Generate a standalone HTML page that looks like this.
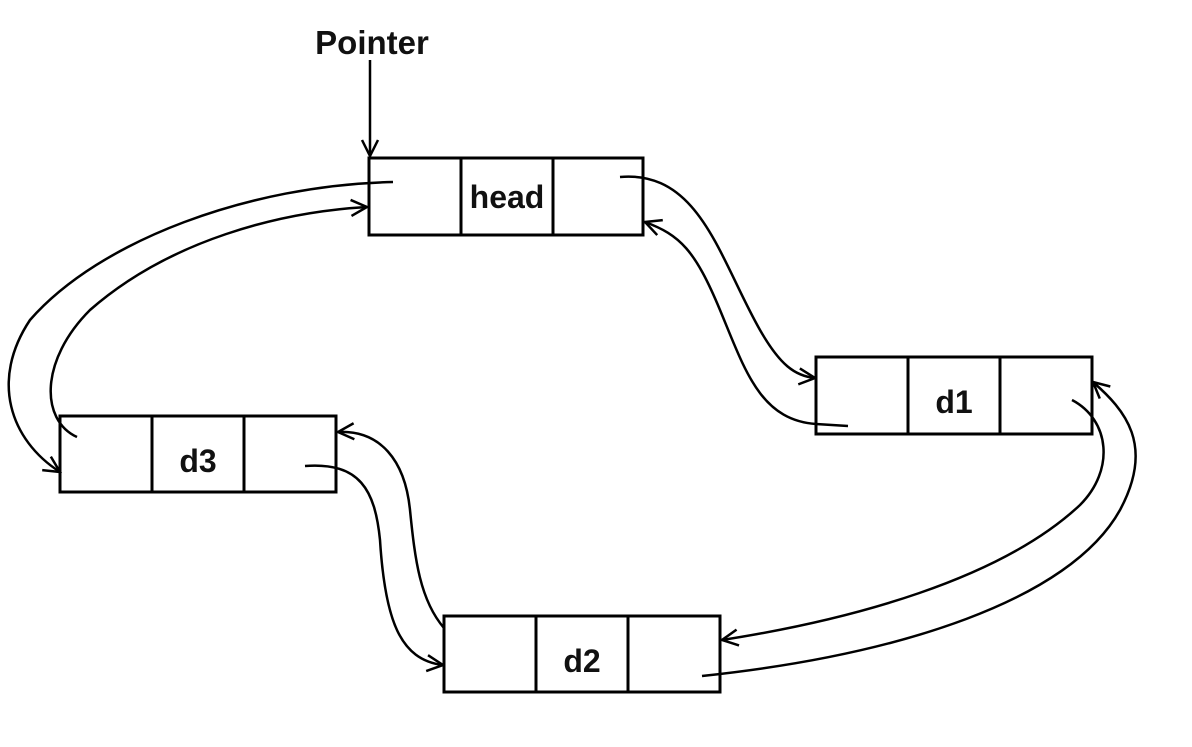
<!DOCTYPE html>
<html><head><style>
html,body{margin:0;padding:0;background:#fff;}
svg{display:block;}
text{font-family:"Liberation Sans",sans-serif;font-weight:bold;fill:#111;}
</style></head><body>
<svg width="1192" height="747" viewBox="0 0 1192 747" xmlns="http://www.w3.org/2000/svg">
<defs>
<marker id="a" viewBox="0 0 20 20" refX="18" refY="10" markerWidth="20" markerHeight="20" markerUnits="userSpaceOnUse" orient="auto">
<path d="M2,2 L18,10 L2,18" fill="none" stroke="#000" stroke-width="2.5"/>
</marker>
</defs>
<g fill="none" stroke="#000" stroke-width="3">
<rect x="369" y="158" width="274" height="77"/>
<line x1="461" y1="158" x2="461" y2="235"/><line x1="553" y1="158" x2="553" y2="235"/>
<rect x="816" y="357" width="276" height="77"/>
<line x1="908" y1="357" x2="908" y2="434"/><line x1="1000" y1="357" x2="1000" y2="434"/>
<rect x="60" y="416" width="276" height="76"/>
<line x1="152" y1="416" x2="152" y2="492"/><line x1="244" y1="416" x2="244" y2="492"/>
<rect x="444" y="616" width="276" height="76"/>
<line x1="536" y1="616" x2="536" y2="692"/><line x1="628" y1="616" x2="628" y2="692"/>
</g>
<g fill="none" stroke="#000" stroke-width="2.5">
<line x1="370" y1="60" x2="370" y2="156" marker-end="url(#a)"/>
<path d="M620,177 C700,170 720,260 760,330 C780,365 795,376 815,378" marker-end="url(#a)"/>
<path d="M848,426 L816,424 C760,420 745,370 720,310 C695,250 680,235 645,222" marker-end="url(#a)"/>
<path d="M1072,400 C1110,420 1115,470 1080,505 C1000,580 850,620 722,640" marker-end="url(#a)"/>
<path d="M702,676 C900,655 1070,600 1120,510 C1155,445 1125,410 1093,382" marker-end="url(#a)"/>
<path d="M393,182 C250,185 100,240 30,320 C-10,380 10,440 60,472" marker-end="url(#a)"/>
<path d="M77,437 C40,420 40,360 90,310 C170,240 280,212 367,207" marker-end="url(#a)"/>
<path d="M305,466 C360,462 375,490 380,540 C385,620 400,660 443,665" marker-end="url(#a)"/>
<path d="M444,628 C420,600 415,560 410,510 C405,460 380,430 338,432" marker-end="url(#a)"/>
</g>
<text x="372" y="54" font-size="33" text-anchor="middle">Pointer</text>
<text x="507" y="208" font-size="32" text-anchor="middle">head</text>
<text x="954" y="413" font-size="32" text-anchor="middle">d1</text>
<text x="198" y="472" font-size="32" text-anchor="middle">d3</text>
<text x="582" y="672" font-size="32" text-anchor="middle">d2</text>
</svg>
</body></html>
